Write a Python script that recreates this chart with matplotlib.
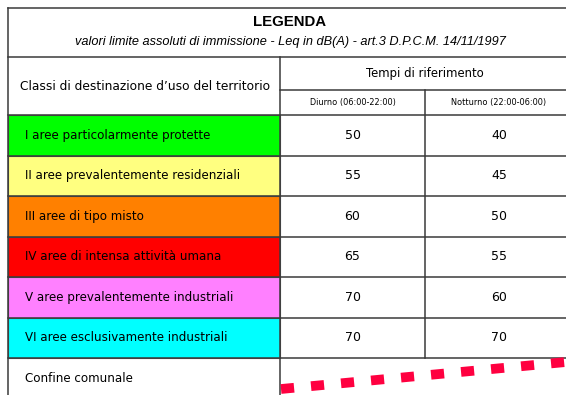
import matplotlib.pyplot as plt
from matplotlib.patches import Rectangle

classi = ["I aree particolarmente protette",
          "II aree prevalentemente residenziali",
          "III aree di tipo misto",
          "IV aree di intensa attività umana",
          "V aree prevalentemente industriali",
          "VI aree esclusivamente industriali"]
colori = ["#00ff00", "#ffff80", "#ff8000", "#ff0000", "#ff80ff", "#00ffff"]
diurno = [50, 55, 60, 65, 70, 70]
notturno = [40, 45, 50, 55, 60, 70]

# confine comunale (tratto visibile), in pixel
confine_x = [281, 566]
confine_y = [389, 362]

W, H = 566, 395
fig = plt.figure(figsize=(W / 100, H / 100), dpi=100)
ax = fig.add_axes([0, 0, 1, 1])
ax.set_xlim(0, W)
ax.set_ylim(H, 0)
ax.axis('off')

lc = '#3a3a3a'
lw = 1.1
tf = 'DejaVu Sans'  # tecnico

x0, x1, x2, x3 = 8, 280, 425, 573
y_top, y_tit, y_sub, y_rows = 8, 57, 90, 115
rh = 40.5

# titolo
ax.plot([x0, W], [y_top, y_top], color=lc, lw=lw)
ax.text(290, 22, "LEGENDA", ha='center', va='center', fontsize=10.8,
        fontweight='bold', family='Liberation Sans')
ax.text(290, 42, "valori limite assoluti di immissione - Leq in dB(A) - art.3 D.P.C.M. 14/11/1997",
        ha='center', va='center', fontsize=9.2, style='italic', family='Liberation Sans')
ax.plot([x0, W], [y_tit, y_tit], color=lc, lw=lw)

# intestazione
ax.text(145, 86, "Classi di destinazione d\u2019uso del territorio", ha='center', va='center',
        fontsize=8.8, family=tf)
ax.text(x2, 73, "Tempi di riferimento", ha='center', va='center', fontsize=8.4, family=tf)
ax.plot([x1, W], [y_sub, y_sub], color=lc, lw=lw)
ax.text((x1 + x2) / 2, 102.5, "Diurno (06:00-22:00)", ha='center', va='center', fontsize=5.9, family=tf)
ax.text((x2 + x3) / 2, 102.5, "Notturno (22:00-06:00)", ha='center', va='center', fontsize=5.9, family=tf)

# righe delle classi
for i, (c, col, d, n) in enumerate(zip(classi, colori, diurno, notturno)):
    yt = y_rows + i * rh
    ax.add_patch(Rectangle((x0, yt), x1 - x0, rh, facecolor=col, edgecolor='#555555', lw=0.8))
    ax.plot([x0, W], [yt, yt], color=lc, lw=lw)
    ax.text(25, yt + rh / 2, c, ha='left', va='center', fontsize=8.6, family=tf)
    ax.text((x1 + x2) / 2, yt + rh / 2, str(d), ha='center', va='center', fontsize=9, family=tf)
    ax.text((x2 + x3) / 2, yt + rh / 2, str(n), ha='center', va='center', fontsize=9, family=tf)

y_conf = y_rows + len(classi) * rh
ax.plot([x0, W], [y_conf, y_conf], color=lc, lw=lw)
ax.text(25, y_conf + 20, "Confine comunale", ha='left', va='center', fontsize=8.6, family=tf)

# linee verticali
ax.plot([x0, x0], [y_top, H], color=lc, lw=lw)
ax.plot([x1, x1], [y_tit, H], color=lc, lw=lw)
ax.plot([x2, x2], [y_sub, y_conf], color=lc, lw=lw)

ax.plot(confine_x, confine_y, color='#ff0040', lw=7, dashes=(1.35, 1.75), solid_capstyle='butt')

fig.savefig('out.png', dpi=100)
